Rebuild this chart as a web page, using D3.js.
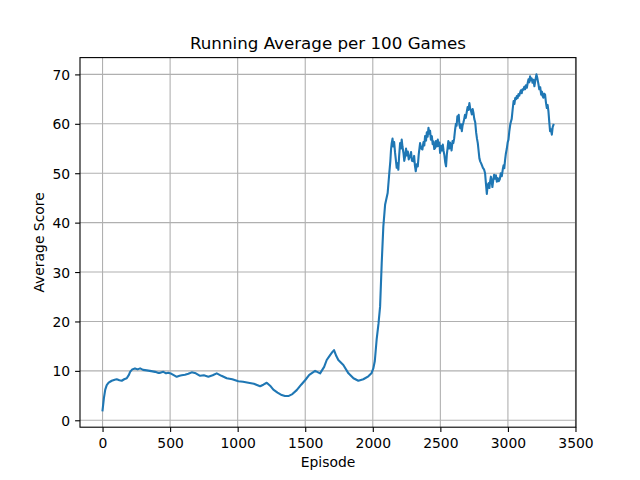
<!DOCTYPE html>
<html>
<head>
<meta charset="utf-8">
<script src="https://cdn.jsdelivr.net/npm/d3@7"></script>
<style>
  html, body { margin: 0; padding: 0; background: #ffffff; }
  svg { display: block; }
  text { font-family: "DejaVu Sans", sans-serif; fill: #000; }
</style>
</head>
<body>
<svg id="chart" width="640" height="480"></svg>
<script>
// ---- data ----
const title = "Running Average per 100 Games";
const xLabel = "Episode";
const yLabel = "Average Score";
const xTicks = [0, 500, 1000, 1500, 2000, 2500, 3000, 3500];
const yTicks = [0, 10, 20, 30, 40, 50, 60, 70];

const episodes = [
  0, 10, 20, 31, 45, 68, 90, 105, 125, 142, 160, 179, 195, 204, 220, 240, 260, 278, 300, 327,
  350, 370, 389, 410, 426, 450, 470, 487, 510, 530, 549, 570, 586, 610, 635, 660, 690, 722, 750, 783,
  815, 845, 880, 919, 960, 1005, 1040, 1079, 1120, 1166, 1190, 1215, 1240, 1264, 1295, 1326, 1350, 1375, 1405, 1437,
  1470, 1499, 1530, 1573, 1610, 1640, 1659, 1684, 1700, 1713, 1730, 1745, 1782, 1820, 1857, 1893, 1930, 1967, 1990, 2004,
  2015, 2029, 2042, 2054, 2066, 2078, 2091, 2110, 2122,
  2130, 2135, 2140, 2146, 2152, 2158, 2165, 2171, 2177, 2183,
  2189, 2195, 2202, 2208, 2214, 2220, 2227, 2233, 2239, 2246,
  2252, 2259, 2266, 2276, 2283, 2290, 2300, 2306, 2312, 2318,
  2325, 2333, 2340, 2350, 2358, 2367, 2375, 2381, 2387, 2394,
  2400, 2406, 2412, 2418, 2424, 2430, 2437, 2443, 2449, 2455,
  2461, 2467, 2474, 2481, 2487, 2493, 2498, 2505, 2511, 2518,
  2524, 2530, 2536, 2542, 2548, 2554, 2559, 2565, 2571, 2577,
  2583, 2590, 2596, 2602, 2609, 2615, 2620, 2626, 2632, 2636,
  2641, 2647, 2653, 2659, 2664, 2670, 2676, 2682, 2688, 2696,
  2702, 2708, 2715, 2721, 2727, 2733, 2739, 2745, 2751, 2758,
  2765, 2771, 2777, 2782, 2789, 2795, 2802, 2808, 2815, 2823,
  2831, 2837, 2844, 2850, 2858, 2863, 2868, 2874, 2879, 2885,
  2891, 2898, 2904, 2911, 2918, 2925, 2932, 2940, 2947, 2955,
  2962, 2968, 2973, 2979, 2985, 2992, 2998, 3004, 3010, 3017,
  3022, 3028, 3035, 3042, 3048, 3054, 3060, 3066, 3072, 3078,
  3084, 3090, 3096, 3102, 3108, 3115, 3121, 3127, 3133, 3140,
  3146, 3152, 3158, 3164, 3170, 3176, 3182, 3189, 3196, 3203,
  3211, 3218, 3226, 3232, 3239, 3246, 3252, 3257, 3263, 3269,
  3275, 3281, 3288, 3294, 3300, 3306, 3312, 3318, 3325, 3331,
  3337
];
const scores = [
  2.0, 4.5, 6.2, 7.1, 7.6, 8.0, 8.2, 8.3, 8.1, 8.0, 8.3, 8.5, 9.2, 9.8, 10.3, 10.5, 10.3, 10.5, 10.2, 10.1,
  10.0, 9.9, 9.8, 9.6, 9.6, 9.8, 9.5, 9.6, 9.4, 9.1, 8.8, 9.0, 9.1, 9.2, 9.4, 9.7, 9.5, 9.0, 9.1, 8.8,
  9.1, 9.5, 9.0, 8.5, 8.3, 7.9, 7.8, 7.6, 7.4, 6.9, 7.2, 7.6, 7.0, 6.2, 5.6, 5.1, 4.9, 4.9, 5.3, 6.1,
  7.2, 8.1, 9.2, 10.0, 9.5, 10.8, 12.2, 13.2, 13.8, 14.2, 13.0, 12.2, 11.2, 9.5, 8.5, 8.0, 8.3, 8.9, 9.5, 10.5,
  12.0, 16.5, 19.5, 23.0, 31.8, 39.2, 43.6, 46.0, 50.0,
  52.5, 54.8, 56.1, 57.0, 55.4, 56.3, 54.1, 52.6, 51.1, 52.0,
  50.7, 53.5, 56.1, 55.0, 56.8, 55.3, 54.1, 52.5, 53.4, 55.0,
  53.6, 54.4, 52.8, 53.4, 54.3, 52.5, 52.4, 53.5, 51.5, 50.4,
  51.8, 51.4, 53.8, 56.1, 55.0, 54.8, 56.3, 55.6, 57.5, 56.6,
  58.3, 57.4, 59.2, 58.0, 58.6, 56.8, 57.5, 55.9, 56.4, 54.9,
  55.1, 56.5, 55.4, 56.8, 55.5, 56.2, 54.1, 55.5, 54.6, 55.8,
  54.5, 53.6, 52.2, 51.4, 53.8, 55.2, 56.5, 55.0, 56.2, 55.5,
  54.6, 56.5, 56.1, 57.0, 58.8, 60.0, 59.6, 61.5, 60.7, 61.8,
  59.8, 59.1, 59.9, 58.5, 59.6, 60.2, 60.9, 61.8, 61.2, 62.5,
  63.4, 62.8, 64.2, 63.0, 62.6, 61.9, 63.0, 62.2, 61.0, 60.3,
  58.2, 57.0, 56.1, 54.8, 53.0, 52.4, 52.0, 51.6, 51.1, 50.8,
  50.0, 48.0, 45.8, 47.6, 48.0, 47.0, 48.3, 49.3, 48.6, 47.2,
  48.5, 49.7, 48.9, 49.6, 48.3, 49.0, 48.4, 48.8, 50.0, 49.4,
  50.8, 51.6, 51.0, 52.7, 54.0, 55.0, 56.2, 56.8, 58.4, 59.8,
  60.4, 61.0, 62.9, 64.6, 64.0, 65.2, 65.0, 65.6, 65.2, 66.0,
  65.7, 66.3, 66.8, 66.2, 67.0, 66.9, 67.5, 67.0, 67.8, 67.3,
  68.2, 69.0, 68.4, 69.6, 68.8, 69.2, 68.3, 68.9, 67.6, 68.8,
  70.0, 69.2, 68.0, 67.0, 67.4, 65.9, 66.5, 65.6, 65.3, 66.1,
  65.9, 64.4, 63.2, 63.8, 62.5, 60.4, 58.5, 58.9, 57.8, 59.3,
  59.8
];

// ---- layout (matplotlib default figure geometry) ----
const plotL = 80, plotR = 576, plotT = 57.6, plotB = 427.2;
const svg = d3.select("#chart");

const xMin = d3.min(episodes), xMax = d3.max(episodes);
const xPad = (xMax - xMin) * 0.05;
const yMin = d3.min(scores), yMax = d3.max(scores);
const yPad = (yMax - yMin) * 0.05;

const x = d3.scaleLinear().domain([xMin - xPad, xMax + xPad]).range([plotL, plotR]);
const y = d3.scaleLinear().domain([yMin - yPad, yMax + yPad]).range([plotB, plotT]);

// grid
const grid = svg.append("g");
grid.selectAll("line.gx").data(xTicks).join("line")
  .attr("x1", d => x(d)).attr("x2", d => x(d))
  .attr("y1", plotT).attr("y2", plotB)
  .attr("stroke", "#b0b0b0").attr("stroke-width", 1.1);
grid.selectAll("line.gy").data(yTicks).join("line")
  .attr("y1", d => y(d)).attr("y2", d => y(d))
  .attr("x1", plotL).attr("x2", plotR)
  .attr("stroke", "#b0b0b0").attr("stroke-width", 1.1);

// line
const data = episodes.map((e, i) => ({ e, v: scores[i] }));
svg.append("path")
  .datum(data)
  .attr("fill", "none")
  .attr("stroke", "#1f77b4")
  .attr("stroke-width", 2.1)
  .attr("stroke-linejoin", "round")
  .attr("stroke-linecap", "square")
  .attr("d", d3.line().x(d => x(d.e)).y(d => y(d.v)));

// axes
const xAxis = d3.axisBottom(x).tickValues(xTicks).tickSize(4.9).tickPadding(4.9).tickFormat(d3.format("d"));
const yAxis = d3.axisLeft(y).tickValues(yTicks).tickSize(4.9).tickPadding(4.9).tickFormat(d3.format("d"));

const gx = svg.append("g").attr("transform", `translate(0,${plotB})`).call(xAxis);
const gy = svg.append("g").attr("transform", `translate(${plotL},0)`).call(yAxis);
[gx, gy].forEach(g => {
  g.select(".domain").remove();
  g.selectAll(".tick line").attr("stroke", "#000").attr("stroke-width", 1.1);
  g.selectAll(".tick text").attr("font-family", "DejaVu Sans").attr("font-size", 13.9).attr("fill", "#000");
});
gx.selectAll(".tick text").attr("dy", "0.76em");
gy.selectAll(".tick text").attr("dy", "0.36em");

// frame
svg.append("rect")
  .attr("x", plotL).attr("y", plotT)
  .attr("width", plotR - plotL).attr("height", plotB - plotT)
  .attr("fill", "none").attr("stroke", "#000").attr("stroke-width", 1.1);

// labels
svg.append("text").attr("x", (plotL + plotR) / 2).attr("y", 49.3)
  .attr("text-anchor", "middle").attr("font-size", 16.7).text(title);
svg.append("text").attr("x", (plotL + plotR) / 2).attr("y", 467)
  .attr("text-anchor", "middle").attr("font-size", 13.9).text(xLabel);
svg.append("text")
  .attr("transform", `translate(44,${(plotT + plotB) / 2}) rotate(-90)`)
  .attr("text-anchor", "middle").attr("font-size", 13.9).text(yLabel);
</script>
</body>
</html>
